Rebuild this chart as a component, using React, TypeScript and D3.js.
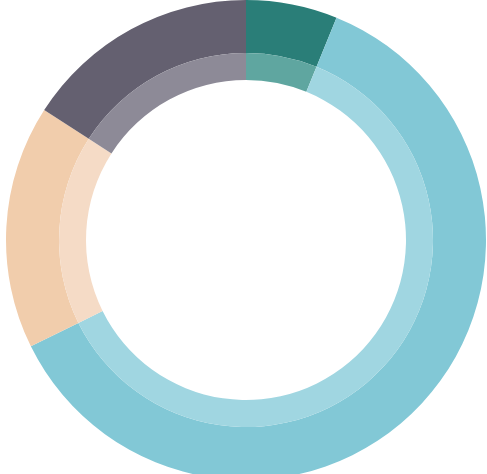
import React from "react";
import * as d3 from "d3";

// budget categories (sum = limit)
const categories = ["Savings", "Bills", "Food", "Other"];
const amounts = [60, 600, 160, 155];
const outerColors = ["#2a7e78", "#82c8d6", "#f1cdac", "#646070"];
const innerColors = ["#5fa6a0", "#a0d6e1", "#f5dbc6", "#8d8a97"];
const spentLabel = "$820";
const limitLabel = "of $975 limit";

const WIDTH = 487;
const HEIGHT = 474;
const CX = 246;
const CY = 240;
const R_OUTER = 240;
const R_MID = 187;
const R_INNER = 160;

export default function App() {
  const data = categories.map((c, i) => ({ key: c, value: amounts[i], i }));

  const pie = d3
    .pie<{ key: string; value: number; i: number }>()
    .value(d => d.value)
    .sort(null);
  const arcs = pie(data);

  const outerArc = d3.arc<any>().innerRadius(R_MID).outerRadius(R_OUTER);
  const innerArc = d3.arc<any>().innerRadius(R_INNER).outerRadius(R_MID);

  return (
    <svg
      width={WIDTH}
      height={HEIGHT}
      style={{ position: "absolute", left: 0, top: 0 }}
    >
      <rect width={WIDTH} height={HEIGHT} fill="#ffffff" />
      <g transform={`translate(${CX},${CY})`}>
        {arcs.map(a => (
          <g key={a.data.key}>
            <path d={outerArc(a) as string} fill={outerColors[a.data.i]} />
            <path d={innerArc(a) as string} fill={innerColors[a.data.i]} />
          </g>
        ))}
        <text
          y={2}
          textAnchor="middle"
          fontFamily="Roboto, sans-serif"
          fontWeight={700}
          fontSize={70}
          fill="#ffffff"
        >
          {spentLabel}
        </text>
        <text
          y={54}
          textAnchor="middle"
          fontFamily="Roboto, sans-serif"
          fontSize={23}
          fill="#ffffff"
        >
          {limitLabel}
        </text>
      </g>
    </svg>
  );
}
